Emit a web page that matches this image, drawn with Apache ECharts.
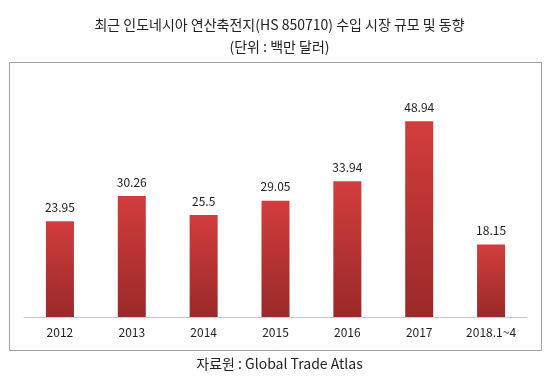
<!DOCTYPE html>
<html><head><meta charset="utf-8">
<script src="https://cdn.jsdelivr.net/npm/echarts@6/dist/echarts.min.js"></script>
<style>html,body{margin:0;padding:0;background:#fff}#c{width:559px;height:386px}</style>
</head><body><div id="c"></div>
<script>
const categories = ['2012','2013','2014','2015','2016','2017','2018.1~4'];
const values = [23.95, 30.26, 25.5, 29.05, 33.94, 48.94, 18.15];
const titleText = '최근 인도네시아 연산축전지(HS 850710) 수입 시장 규모 및 동향';
const subText = '(단위 : 백만 달러)';
const sourceText = '자료원 : Global Trade Atlas';
const font = '"Noto Sans CJK KR", "Noto Sans", sans-serif';
const chart = echarts.init(document.getElementById('c'));
chart.setOption({
  animation: false,
  backgroundColor: '#fff',
  graphic: [
    {type:'rect', shape:{x:9.5,y:62.5,width:532,height:288}, style:{fill:'none', stroke:'#a0a0a0', lineWidth:1}, z:-1},
    {type:'text', left:'center', top:18, style:{text:titleText, font:'14px '+font, fill:'#222'}},
    {type:'text', left:'center', top:40, style:{text:subText, font:'14px '+font, fill:'#222'}},
    {type:'text', left:'center', top:357, style:{text:sourceText, font:'14px '+font, fill:'#222'}}
  ],
  grid: {left:24, right:32, top:77, bottom:69, containLabel:false},
  xAxis: {type:'category', data:categories,
    axisLine:{lineStyle:{color:'#c8c8c8', width:1}}, axisTick:{show:false},
    axisLabel:{color:'#222', fontSize:12, fontFamily:font, margin:9}},
  yAxis: {type:'value', min:0, max:60, show:false, splitLine:{show:false}},
  series: [{type:'bar', data:values, barWidth:'39%',
    itemStyle:{color:new echarts.graphic.LinearGradient(0,0,0,1,[{offset:0,color:'#d23d3c'},{offset:1,color:'#9a2a29'}])},
    label:{show:true, position:'top', distance:8, color:'#222', fontSize:12, fontFamily:font}}]
});
</script></body></html>
